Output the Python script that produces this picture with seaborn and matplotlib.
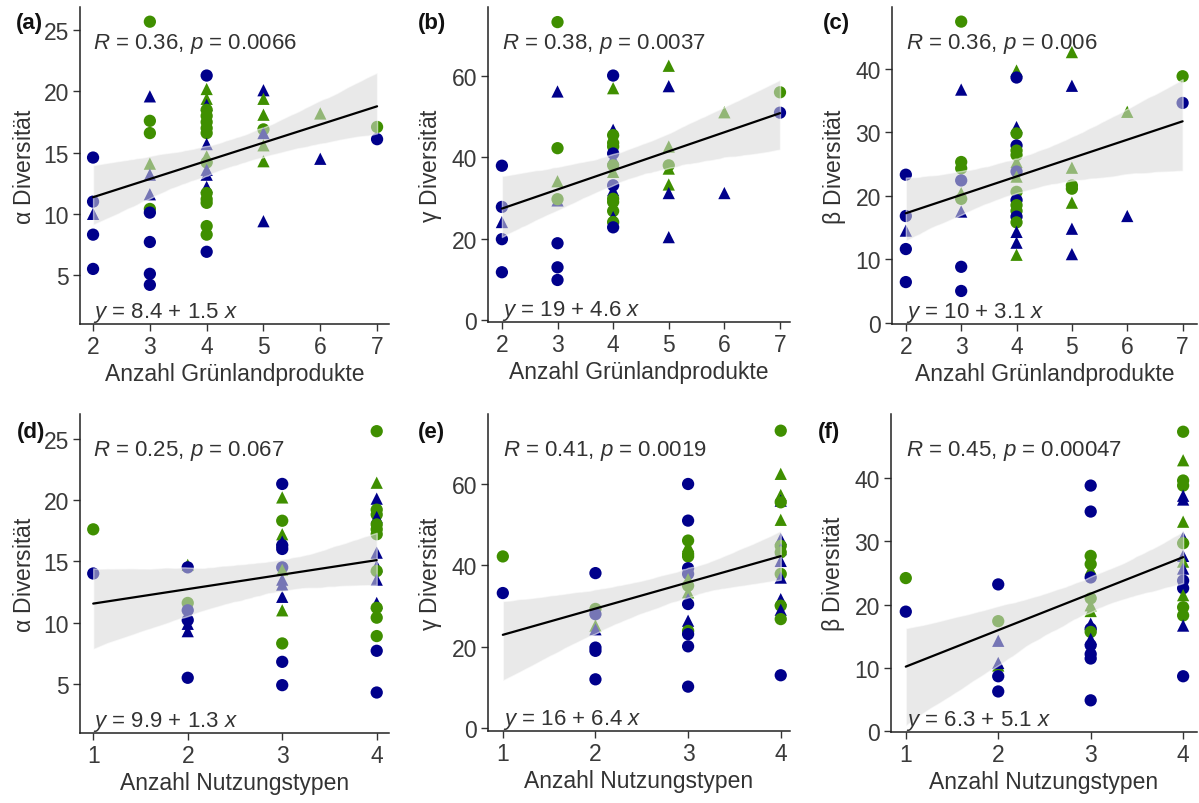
import numpy as np
import pandas as pd
import matplotlib
matplotlib.use("Agg")
import matplotlib.pyplot as plt
import seaborn as sns

# --- data (x = category, y = diversity, kind = colour+shape) ---
a_x = [2, 2, 2, 2, 2,
       3, 3, 3, 3, 3, 3, 3, 3, 3, 3, 3, 3,
       4, 4, 4, 4, 4, 4, 4, 4, 4, 4, 4, 4, 4, 4, 4, 4, 4, 4, 4, 4, 4,
       5, 5, 5, 5, 5, 5, 5, 5,
       6, 6,
       7, 7]
a_y = [14.6, 11.0, 10.0, 8.3, 5.5,
       25.7, 19.6, 17.6, 16.6, 14.1, 13.2, 11.6, 10.4, 10.1, 7.7, 5.1, 4.2,
       21.3, 20.2, 19.4, 18.9, 18.5, 18.0, 17.5, 17.0, 16.6, 15.7, 14.7, 14.2, 13.6, 13.2, 12.2, 11.7, 11.2, 10.9, 9.0, 8.3, 6.9,
       20.1, 19.4, 18.1, 16.9, 16.6, 15.6, 14.3, 9.4,
       18.2, 14.5,
       17.1, 16.1]
a_kind = ["nc", "nc", "nt", "nc", "nc",
          "gc", "nt", "gc", "gc", "gt", "nt", "nt", "gc", "nc", "nc", "nc", "nc",
          "nc", "gt", "gt", "nt", "gc", "gc", "gc", "gc", "gc", "nt", "gt", "gc", "nt", "nt", "nt", "gc", "gc", "gc", "gc", "gc", "nc",
          "nt", "gt", "gt", "gc", "nt", "gt", "gt", "nt",
          "gt", "nt",
          "gc", "nc"]

b_x = [2, 2, 2, 2, 2,
       3, 3, 3, 3, 3, 3, 3, 3, 3,
       4, 4, 4, 4, 4, 4, 4, 4, 4, 4, 4, 4, 4, 4, 4, 4, 4, 4,
       5, 5, 5, 5, 5, 5, 5, 5,
       6, 6,
       7, 7]
b_y = [37.9, 27.8, 24.1, 19.9, 11.8,
       73.1, 56.1, 42.2, 34.1, 29.4, 29.7, 18.9, 13.0, 9.9,
       60.0, 56.9, 46.7, 45.4, 43.5, 42.6, 40.9, 39.7, 38.0, 36.4, 33.1, 31.9, 29.8, 29.0, 26.8, 25.3, 24.1, 22.8,
       62.4, 57.4, 42.6, 38.0, 37.2, 33.3, 31.2, 20.4,
       51.0, 31.2,
       55.9, 50.9]
b_kind = ["nc", "nc", "nt", "nc", "nc",
          "gc", "nt", "gc", "gt", "nt", "gc", "nc", "nc", "nc",
          "nc", "gt", "nt", "gc", "gc", "gc", "nc", "nt", "gc", "gt", "nc", "nt", "gc", "gc", "gc", "nt", "gc", "nc",
          "gt", "nt", "gt", "gc", "gt", "gt", "nt", "nt",
          "gt", "nt",
          "gc", "nc"]

c_x = [2, 2, 2, 2, 2,
       3, 3, 3, 3, 3, 3, 3, 3, 3, 3,
       4, 4, 4, 4, 4, 4, 4, 4, 4, 4, 4, 4, 4, 4, 4, 4, 4, 4, 4,
       5, 5, 5, 5, 5, 5, 5, 5,
       6, 6,
       7, 7]
c_y = [23.3, 16.8, 14.5, 11.6, 6.4,
       47.4, 36.7, 25.3, 24.3, 22.4, 20.4, 19.5, 17.5, 8.8, 5.0,
       39.7, 38.6, 30.8, 29.8, 27.9, 27.1, 26.4, 25.3, 23.8, 23.0, 20.6, 19.3, 18.5, 17.6, 16.7, 15.8, 14.3, 12.6, 10.7,
       42.6, 37.3, 24.4, 21.6, 21.1, 18.9, 14.8, 10.8,
       33.2, 16.8,
       38.8, 34.6]
c_kind = ["nc", "nc", "nt", "nc", "nc",
          "gc", "nt", "gc", "gc", "nc", "gt", "gc", "nt", "nc", "nc",
          "gt", "nc", "nt", "gc", "nc", "gc", "gc", "gt", "nc", "gt", "gc", "nc", "gc", "gc", "nc", "gc", "nt", "nt", "gt",
          "gt", "nt", "gt", "gc", "gc", "gt", "nt", "nt",
          "gt", "nt",
          "gc", "nc"]

d_x = [1, 1,
       2, 2, 2, 2, 2, 2, 2, 2,
       3, 3, 3, 3, 3, 3, 3, 3, 3, 3, 3, 3, 3, 3, 3, 3, 3,
       4, 4, 4, 4, 4, 4, 4, 4, 4, 4, 4, 4, 4, 4, 4, 4, 4, 4, 4]
d_y = [17.6, 14.0,
       14.7, 14.5, 11.6, 11.0, 10.2, 9.9, 9.3, 5.5,
       21.3, 20.2, 18.3, 17.2, 16.8, 16.6, 16.3, 16.0, 14.5, 14.3, 13.5, 13.1, 12.1, 11.0, 8.3, 6.8, 4.9,
       25.6, 21.4, 20.1, 19.2, 18.8, 18.6, 18.0, 17.6, 17.2, 15.7, 14.6, 14.2, 13.5, 11.6, 11.2, 10.4, 8.9, 7.7, 4.3]
d_kind = ["gc", "nc",
          "gt", "nc", "gc", "nc", "nc", "nt", "nt", "nc",
          "nc", "gt", "gc", "gt", "gt", "nt", "nc", "nc", "nc", "gt", "nt", "nt", "nt", "gt", "gc", "nc", "nc",
          "gc", "gt", "nt", "gc", "gc", "nt", "gc", "gc", "gc", "nt", "nt", "gc", "nt", "nt", "gc", "gc", "gc", "nc", "nc"]

e_x = [1, 1,
       2, 2, 2, 2, 2, 2, 2, 2,
       3, 3, 3, 3, 3, 3, 3, 3, 3, 3, 3, 3, 3, 3, 3, 3, 3, 3,
       4, 4, 4, 4, 4, 4, 4, 4, 4, 4, 4, 4, 4, 4, 4, 4, 4, 4]
e_y = [42.2, 33.2,
       38.1, 29.3, 28.0, 25.2, 24.3, 19.8, 19.0, 12.0,
       60.0, 51.0, 46.1, 44.8, 42.8, 42.2, 39.3, 37.9, 36.6, 35.0, 33.4, 31.7, 30.5, 26.4, 23.9, 23.1, 20.1, 10.2,
       73.1, 62.5, 57.3, 55.9, 55.5, 51.2, 46.5, 44.8, 44.0, 43.2, 41.1, 37.9, 37.0, 31.7, 30.1, 29.1, 26.8, 13.0]
e_kind = ["gc", "nc",
          "nc", "gc", "nc", "gt", "nt", "nc", "nc", "nc",
          "nc", "nc", "gc", "gt", "gc", "gc", "nc", "nc", "gt", "gc", "gt", "nt", "nc", "nt", "gc", "nc", "nc", "nc",
          "gc", "gt", "gt", "nt", "gc", "gt", "nt", "gc", "nt", "gc", "nt", "gc", "nt", "nt", "gc", "nt", "gc", "nc"]

f_x = [1, 1,
       2, 2, 2, 2, 2, 2, 2,
       3, 3, 3, 3, 3, 3, 3, 3, 3, 3, 3, 3, 3, 3, 3, 3, 3,
       4, 4, 4, 4, 4, 4, 4, 4, 4, 4, 4, 4, 4, 4, 4, 4, 4, 4, 4]
f_y = [24.2, 18.9,
       23.2, 17.4, 14.3, 10.4, 10.8, 8.7, 6.3,
       38.8, 34.7, 27.7, 26.4, 25.6, 24.3, 21.0, 19.9, 19.0, 17.0, 16.2, 15.7, 14.6, 13.6, 12.2, 11.5, 4.9,
       47.3, 42.8, 39.6, 38.8, 37.2, 36.6, 33.1, 30.6, 29.7, 27.7, 26.8, 25.7, 23.8, 22.6, 21.5, 19.6, 18.3, 16.7, 8.7]
f_kind = ["gc", "nc",
          "nc", "gc", "nt", "gt", "nt", "nc", "nc",
          "nc", "nc", "gc", "gc", "gt", "nc", "gc", "gt", "gt", "nt", "nc", "gc", "nt", "nc", "nc", "nc", "nc",
          "gc", "gt", "gc", "gc", "nt", "nt", "gt", "nt", "gc", "nt", "gt", "nt", "nc", "nc", "gt", "gc", "gc", "nt", "nc"]

tags = ["(a)", "(b)", "(c)", "(d)", "(e)", "(f)"]
r_labels = ["0.36", "0.38", "0.36", "0.25", "0.41", "0.45"]
p_labels = ["0.0066", "0.0037", "0.006", "0.067", "0.0019", "0.00047"]
intercepts = ["8.4", "19", "10", "9.9", "16", "6.3"]
slopes = ["1.5", "4.6", "3.1", "1.3", "6.4", "5.1"]
greek = ["α", "γ", "β"] * 2
x_titles = ["Anzahl Grünlandprodukte"] * 3 + ["Anzahl Nutzungstypen"] * 3

sns.set_style("ticks")
plt.rcParams["font.family"] = ["Liberation Sans", "DejaVu Sans"]
plt.rcParams["mathtext.fontset"] = "custom"
plt.rcParams["mathtext.rm"] = "Liberation Sans"
plt.rcParams["mathtext.it"] = "Liberation Sans:italic"

navy = "#00008B"
green = "#3F8F00"
txt_col = "#333333"

fig = plt.figure(figsize=(11.99, 8.04), dpi=100)

# axes boxes in pixels: left, right, top, bottom
boxes = [(80, 389, 8, 325), (488, 790, 8, 323), (892, 1197, 8, 325),
         (80, 389, 415, 734), (488, 790, 415, 732), (891, 1197, 415, 733)]
xlims = [(1.77, 7.21), (1.75, 7.18), (1.75, 7.26), (0.86, 4.13), (0.84, 4.10), (0.84, 4.15)]
ylims = [(1.0, 26.9), (-0.4, 76.8), (-0.2, 49.7), (1.0, 27.0), (-0.7, 77.2), (-0.1, 50.1)]
yticks = [[5, 10, 15, 20, 25], [0, 20, 40, 60], [0, 10, 20, 30, 40]] * 2
xticks = [[2, 3, 4, 5, 6, 7]] * 3 + [[1, 2, 3, 4]] * 3
tag_pos = [(16, 24), (418, 24), (823, 24), (17, 433), (418, 433), (818, 433)]

data = [(a_x, a_y, a_kind), (b_x, b_y, b_kind), (c_x, c_y, c_kind),
        (d_x, d_y, d_kind), (e_x, e_y, e_kind), (f_x, f_y, f_kind)]

W, H = 1199, 804
for i, (xs, ys, ks) in enumerate(data):
    l, r, t, b = boxes[i]
    ax = fig.add_axes([l / W, (H - b) / H, (r - l) / W, (b - t) / H])

    df = pd.DataFrame({"x": xs, "y": ys, "kind": ks})
    df["farbe"] = df["kind"].str[0]
    df["form"] = df["kind"].str[1]

    sns.scatterplot(data=df, x="x", y="y", hue="farbe", style="form",
                    palette={"n": navy, "g": green},
                    markers={"c": "o", "t": "^"},
                    s=78, linewidth=0, legend=False, ax=ax, zorder=2)

    n_coll = len(ax.collections)
    sns.regplot(data=df, x="x", y="y", scatter=False, ci=95, seed=7,
                color="black", line_kws={"lw": 1.6}, ax=ax)
    for coll in ax.collections[n_coll:]:
        coll.set_facecolor("#D8D8D8")
        coll.set_alpha(0.55)
        coll.set_zorder(3)
    ax.lines[-1].set_zorder(4)

    ax.set_xlim(*xlims[i])
    ax.set_ylim(*ylims[i])
    ax.set_xticks(xticks[i])
    ax.set_yticks(yticks[i])
    ax.tick_params(direction="out", length=5, width=1, color=txt_col,
                   labelsize=16.5, labelcolor="#3A3A3A", pad=3)
    for s in ["top", "right"]:
        ax.spines[s].set_visible(False)
    for s in ["left", "bottom"]:
        ax.spines[s].set_linewidth(1.1)
        ax.spines[s].set_color("#222222")
    ax.set_xlabel(x_titles[i], fontsize=16.5, color=txt_col, labelpad=3)
    # greek letter drawn a bit smaller, as in the reference
    ax.set_ylabel(rf"$\mathregular{{{greek[i]}}}$ Diversität", fontsize=16.5,
                  color=txt_col, labelpad=5)

    x0 = xticks[i][0]
    trans = ax.get_xaxis_transform()
    ax.text(x0, 0.886, rf"$R$ = {r_labels[i]}, $p$ = {p_labels[i]}",
            transform=trans, fontsize=16, color=txt_col, ha="left", va="center", zorder=5)
    ax.text(x0, 0.038, rf"$y$ = {intercepts[i]} + {slopes[i]} $x$",
            transform=trans, fontsize=16, color=txt_col, ha="left", va="center", zorder=5)

    fig.text(tag_pos[i][0] / W, 1 - tag_pos[i][1] / H, tags[i], fontsize=16,
             fontweight="bold", color="#111111", ha="left", va="center")

fig.savefig("out.png", dpi=100)
